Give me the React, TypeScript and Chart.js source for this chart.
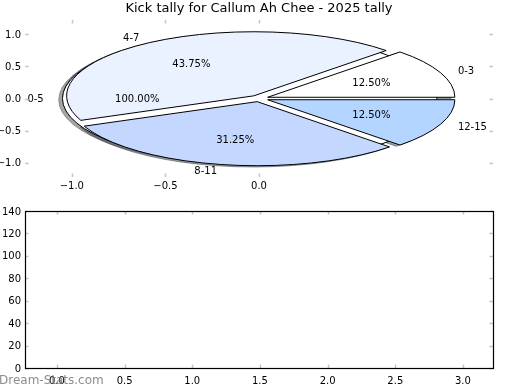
import { useEffect, useRef } from "react";
import { Chart, registerables } from "chart.js";
Chart.register(...registerables);

const TITLE = "Kick tally for Callum Ah Chee - 2025 tally";
const PIE_LABELS = ["0-3", "4-7", "8-11", "12-15"];
const PIE_VALUES = [2, 7, 5, 2];
const PIE_COLORS = ["#ffffff", "#eaf2ff", "#c4d8ff", "#b3d5ff"];
const PIE_EXPLODE = [0.05, 0.05, 0.05, 0.05];
const FULL_LABELS = ["0-5"];
const FULL_VALUES = [1];
const FULL_COLORS = ["#ffffff"];
const FULL_EXPLODE = [0.05];
const PIE_X_TICKS = [-1.0, -0.5, 0.0];
const PIE_Y_TICKS = [-1.0, -0.5, 0.0, 0.5, 1.0];
const LOW_X_TICKS = [0, 0.5, 1.0, 1.5, 2.0, 2.5, 3.0];
const LOW_Y_TICKS = [0, 20, 40, 60, 80, 100, 120, 140];
const WATERMARK = "Dream-Stats.com";

const FONT = "'DejaVu Sans', sans-serif";
const TICK_COLOR = "#c4c4c4";

type W = { t1: number; t2: number; mid: number; cx: number; cy: number; frac: number };

function makeWedges(values: number[], explode: number[]): W[] {
  const total = values.reduce((a, b) => a + b, 0);
  let a = 0;
  return values.map((v, i) => {
    const t1 = a;
    const t2 = a + (360 * v) / total;
    a = t2;
    const mid = (((t1 + t2) / 2) * Math.PI) / 180;
    return { t1, t2, mid, cx: explode[i] * Math.cos(mid), cy: explode[i] * Math.sin(mid), frac: v / total };
  });
}

function wedgePath(ctx: CanvasRenderingContext2D, xs: any, ys: any, w: W, dx = 0, dy = 0) {
  const X = xs.getPixelForValue(w.cx + dx);
  const Y = ys.getPixelForValue(w.cy + dy);
  const rx = xs.getPixelForValue(w.cx + dx + 1) - X;
  const ry = Y - ys.getPixelForValue(w.cy + dy + 1);
  ctx.beginPath();
  if (w.t2 - w.t1 >= 359.999) {
    ctx.ellipse(X, Y, rx, ry, 0, 0, Math.PI * 2);
  } else {
    ctx.moveTo(X, Y);
    ctx.ellipse(X, Y, rx, ry, 0, (-w.t1 * Math.PI) / 180, (-w.t2 * Math.PI) / 180, true);
    ctx.closePath();
  }
}

function shadowColor(hex: string) {
  const r = parseInt(hex.slice(1, 3), 16) * 0.3;
  const g = parseInt(hex.slice(3, 5), 16) * 0.3;
  const b = parseInt(hex.slice(5, 7), 16) * 0.3;
  return `rgba(${r.toFixed(0)},${g.toFixed(0)},${b.toFixed(0)},0.5)`;
}

function fmt1(v: any) {
  return Number(v).toFixed(1).replace("-", "\u2212");
}

function drawTicksFrame(chart: any, xt: number[], yt: number[], frame: boolean) {
  const { ctx, chartArea, scales } = chart;
  const { left, right, top, bottom } = chartArea;
  ctx.save();
  ctx.strokeStyle = TICK_COLOR;
  ctx.lineWidth = 1.5;
  ctx.beginPath();
  for (const v of xt) {
    const p = Math.round(scales.x.getPixelForValue(v)) + 0.5;
    ctx.moveTo(p, top);
    ctx.lineTo(p, top + 3.5);
    ctx.moveTo(p, bottom);
    ctx.lineTo(p, bottom - 3.5);
  }
  for (const v of yt) {
    const p = Math.round(scales.y.getPixelForValue(v)) + 0.5;
    ctx.moveTo(left, p);
    ctx.lineTo(left + 3.5, p);
    ctx.moveTo(right, p);
    ctx.lineTo(right - 3.5, p);
  }
  ctx.stroke();
  if (frame) {
    ctx.strokeStyle = "#000";
    ctx.lineWidth = 1.2;
    ctx.strokeRect(left + 0.5, top + 0.5, right - left, bottom - top);
  }
  ctx.restore();
}

const piePlugin = {
  id: "pieOnAxes",
  afterDraw(chart: any) {
    const { ctx, scales, chartArea } = chart;
    const xs = scales.x;
    const ys = scales.y;
    const full = makeWedges(FULL_VALUES, FULL_EXPLODE);
    const main = makeWedges(PIE_VALUES, PIE_EXPLODE);
    ctx.save();
    ctx.lineWidth = 1;
    ctx.lineJoin = "round";
    const all = [
      ...full.map((w, i) => ({ w, c: FULL_COLORS[i] })),
      ...main.map((w, i) => ({ w, c: PIE_COLORS[i] })),
    ];
    for (const { w, c } of all) {
      wedgePath(ctx, xs, ys, w, -0.02, -0.02);
      ctx.fillStyle = shadowColor(c);
      ctx.strokeStyle = shadowColor(c);
      ctx.fill();
      ctx.stroke();
    }
    for (const { w, c } of all) {
      wedgePath(ctx, xs, ys, w);
      ctx.fillStyle = c;
      ctx.strokeStyle = "#000";
      ctx.fill();
      ctx.stroke();
    }
    ctx.fillStyle = "#000";
    ctx.font = `10px ${FONT}`;
    ctx.textBaseline = "middle";
    const texts = [
      ...full.map((w, i) => ({ w, l: FULL_LABELS[i] })),
      ...main.map((w, i) => ({ w, l: PIE_LABELS[i] })),
    ];
    for (const { w, l } of texts) {
      const lx = w.cx + 1.1 * Math.cos(w.mid);
      const ly = w.cy + 1.1 * Math.sin(w.mid);
      ctx.textAlign = lx > 0 ? "left" : "right";
      ctx.fillText(l, xs.getPixelForValue(lx), ys.getPixelForValue(ly) + 1);
      const px = w.cx + 0.6 * Math.cos(w.mid);
      const py = w.cy + 0.6 * Math.sin(w.mid);
      ctx.textAlign = "center";
      ctx.fillText((w.frac * 100).toFixed(2) + "%", xs.getPixelForValue(px), ys.getPixelForValue(py) + 1);
    }
    ctx.font = `13px ${FONT}`;
    ctx.textAlign = "center";
    ctx.textBaseline = "middle";
    ctx.fillText(TITLE, (chartArea.left + chartArea.right) / 2, 9);
    ctx.restore();
    drawTicksFrame(chart, PIE_X_TICKS, PIE_Y_TICKS, false);
  },
};

const lowPlugin = {
  id: "lowFrame",
  afterDraw(chart: any) {
    drawTicksFrame(chart, LOW_X_TICKS, LOW_Y_TICKS, true);
  },
};

export default function App() {
  const topRef = useRef<HTMLCanvasElement>(null);
  const lowRef = useRef<HTMLCanvasElement>(null);

  useEffect(() => {
    const tickFont = { family: FONT, size: 10 };
    const top = new Chart(topRef.current!, {
      type: "scatter",
      data: { datasets: [] },
      options: {
        animation: false,
        responsive: false,
        layout: { padding: { left: 0, right: 27, top: 20, bottom: 0 } },
        plugins: { legend: { display: false }, tooltip: { enabled: false }, title: { display: false } },
        scales: {
          x: {
            type: "linear",
            min: -1.25,
            max: 1.25,
            afterBuildTicks: (s: any) => {
              s.ticks = PIE_X_TICKS.map((v) => ({ value: v }));
            },
            afterFit: (s: any) => {
              s.height = 23;
            },
            grid: { display: false, drawTicks: false, tickLength: 0 },
            border: { display: false },
            ticks: { font: tickFont, color: "#000", padding: 3, maxRotation: 0, autoSkip: false, callback: (v: any) => fmt1(v) },
          },
          y: {
            type: "linear",
            min: -1.225,
            max: 1.225,
            afterBuildTicks: (s: any) => {
              s.ticks = PIE_Y_TICKS.map((v) => ({ value: v }));
            },
            afterFit: (s: any) => {
              s.width = 25;
            },
            grid: { display: false, drawTicks: false, tickLength: 0 },
            border: { display: false },
            ticks: { font: tickFont, color: "#000", padding: 4, labelOffset: 1, autoSkip: false, callback: (v: any) => fmt1(v) },
          },
        },
      },
      plugins: [piePlugin],
    } as any);

    const low = new Chart(lowRef.current!, {
      type: "scatter",
      data: { datasets: [] },
      options: {
        animation: false,
        responsive: false,
        layout: { padding: { left: 0, right: 27, top: 11, bottom: 0 } },
        plugins: { legend: { display: false }, tooltip: { enabled: false }, title: { display: false } },
        scales: {
          x: {
            type: "linear",
            min: -0.236,
            max: 3.222,
            afterBuildTicks: (s: any) => {
              s.ticks = LOW_X_TICKS.map((v) => ({ value: v }));
            },
            afterFit: (s: any) => {
              s.height = 22;
            },
            grid: { display: false, drawTicks: false, tickLength: 0 },
            border: { display: false },
            ticks: { font: tickFont, color: "#000", padding: 7, maxRotation: 0, autoSkip: false, callback: (v: any) => fmt1(v) },
          },
          y: {
            type: "linear",
            min: 0,
            max: 140,
            afterBuildTicks: (s: any) => {
              s.ticks = LOW_Y_TICKS.map((v) => ({ value: v }));
            },
            afterFit: (s: any) => {
              s.width = 25;
            },
            grid: { display: false, drawTicks: false, tickLength: 0 },
            border: { display: false },
            ticks: { font: tickFont, color: "#000", padding: 4, labelOffset: 1, autoSkip: false, callback: (v: any) => String(v) },
          },
        },
      },
      plugins: [lowPlugin],
    } as any);

    return () => {
      top.destroy();
      low.destroy();
    };
  }, []);

  return (
    <div style={{ position: "absolute", left: 0, top: 0, width: 520, height: 390, background: "#fff", overflow: "hidden" }}>
      <canvas ref={topRef} width={520} height={200} style={{ position: "absolute", left: 0, top: 0 }} />
      <canvas ref={lowRef} width={520} height={190} style={{ position: "absolute", left: 0, top: 200 }} />
      <span
        style={{
          position: "absolute",
          left: -1,
          top: 373,
          font: `12px ${FONT}`,
          lineHeight: "14px",
          color: "rgba(120,120,120,0.85)",
          whiteSpace: "nowrap",
        }}
      >
        {WATERMARK}
      </span>
    </div>
  );
}
